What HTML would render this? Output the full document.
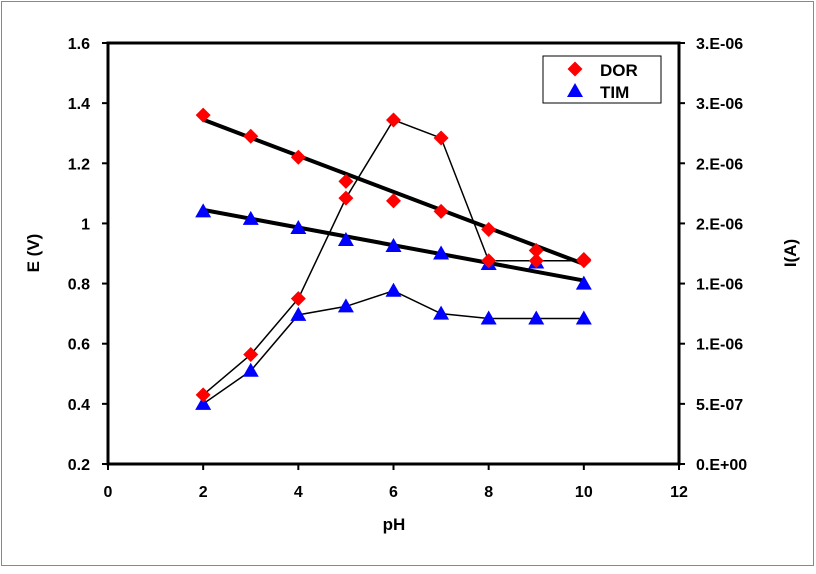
<!DOCTYPE html>
<html><head><meta charset="utf-8"><style>
body{margin:0;background:#fff;}
svg text{font-family:"Liberation Sans",Arial,sans-serif;font-weight:bold;}
</style></head><body>
<svg width="816" height="569">
<rect x="1.5" y="1.5" width="812" height="564" fill="#fff" stroke="#888" stroke-width="1"/>
<g id="g"></g>
</svg>
<script>
const phValues=[2,3,4,5,6,7,8,9,10];
const dorE=[1.36,1.29,1.22,1.14,1.075,1.04,0.98,0.91,0.88];
const dorI=[5.75e-7,9.1e-7,1.375e-6,2.21e-6,2.86e-6,2.71e-6,1.69e-6,1.69e-6,1.69e-6];
const timE=[1.04,1.015,0.985,0.945,0.925,0.9,0.865,0.87,0.80];
const timI=[5.0e-7,7.75e-7,1.24e-6,1.31e-6,1.44e-6,1.25e-6,1.21e-6,1.21e-6,1.21e-6];
const dorFit=[1.345,0.865];
const timFit=[1.045,0.81];
const xTicks=[0,2,4,6,8,10,12];
const yTicks=[0.2,0.4,0.6,0.8,1,1.2,1.4,1.6];
const y2Ticks=[0,5e-7,1e-6,1.5e-6,2e-6,2.5e-6,3e-6,3.5e-6];
const y2Labels=["0.E+00","5.E-07","1.E-06","1.E-06","2.E-06","2.E-06","3.E-06","3.E-06"];

const L=108,R=679,T=43,B=464;
const xs=v=>L+(v-0)/12*(R-L);
const ys=v=>B-(v-0.2)/1.4*(B-T);
const y2=v=>B-v/3.5e-6*(B-T);
const g=document.getElementById('g');
const NS='http://www.w3.org/2000/svg';
function el(t,a,p){const e=document.createElementNS(NS,t);for(const k in a)e.setAttribute(k,a[k]);(p||g).appendChild(e);return e;}

let e=el('rect',{x:L,y:T,width:R-L,height:B-T,fill:'none',stroke:'#000','stroke-width':3});



xTicks.forEach(v=>{
 let t=el('line',{x1:xs(v),x2:xs(v),y1:B,y2:B+6,stroke:'#000','stroke-width':2});
 
 
 let l=el('text',{x:xs(v),y:B+33,'text-anchor':'middle','font-size':16});l.textContent=v;
 
 
});
yTicks.forEach(v=>{
 let t=el('line',{x1:L-6,x2:L,y1:ys(v),y2:ys(v),stroke:'#000','stroke-width':2});
 
 
 let l=el('text',{x:L-18,y:ys(v)+6,'text-anchor':'end','font-size':16});l.textContent=v;
 
 
});
y2Ticks.forEach((v,i)=>{
 let t=el('line',{x1:R,x2:R+6,y1:y2(v),y2:y2(v),stroke:'#000','stroke-width':2});
 
 
 let l=el('text',{x:R+17,y:y2(v)+6,'font-size':16});l.textContent=y2Labels[i];
 
 
});
let xt=el('text',{x:394,y:530,'text-anchor':'middle','font-size':17});xt.textContent='pH';


let yt=el('text',{x:39,y:253,'text-anchor':'middle','font-size':17,transform:'rotate(-90 39 253)'});yt.textContent='E (V)';


let y2t=el('text',{x:796,y:253,'text-anchor':'middle','font-size':17,transform:'rotate(-90 796 253)'});y2t.textContent='I(A)';



function poly(vals,f,name){
 let p=el('polyline',{points:vals.map((v,i)=>xs(phValues[i])+','+f(v)).join(' '),fill:'none',stroke:'#000','stroke-width':1.5});
 
 
}
poly(dorI,y2,'dor-current-line');
poly(timI,y2,'tim-current-line');
function fit(f,name){
 let p=el('line',{x1:xs(phValues[0]),y1:ys(f[0]),x2:xs(phValues[phValues.length-1]),y2:ys(f[1]),stroke:'#000','stroke-width':4});
 
 
}
fit(dorFit,'dor-fit-line');
fit(timFit,'tim-fit-line');

function diamond(x,y,name){
 let d=el('polygon',{points:`${x},${y-7.5} ${x+7.5},${y} ${x},${y+7.5} ${x-7.5},${y}`,fill:'#f00'});
 
 
}
function tri(x,y,name){
 let d=el('polygon',{points:`${x},${y-8} ${x+8},${y+6} ${x-8},${y+6}`,fill:'#00f'});
 
 
}
phValues.forEach((p,i)=>{
 tri(xs(p),y2(timI[i]),'tim-current-point');
 tri(xs(p),ys(timE[i]),'tim-potential-point');
 diamond(xs(p),y2(dorI[i]),'dor-current-point');
 diamond(xs(p),ys(dorE[i]),'dor-potential-point');
});

let lg=el('rect',{x:543,y:56,width:118,height:47,fill:'#fff',stroke:'#000','stroke-width':1});


diamond(575,69,'legend-dor-marker');
tri(575,91,'legend-tim-marker');
let l1=el('text',{x:600,y:76,'font-size':17});l1.textContent='DOR';


let l2=el('text',{x:600,y:98,'font-size':17});l2.textContent='TIM';


</script>
</body></html>
